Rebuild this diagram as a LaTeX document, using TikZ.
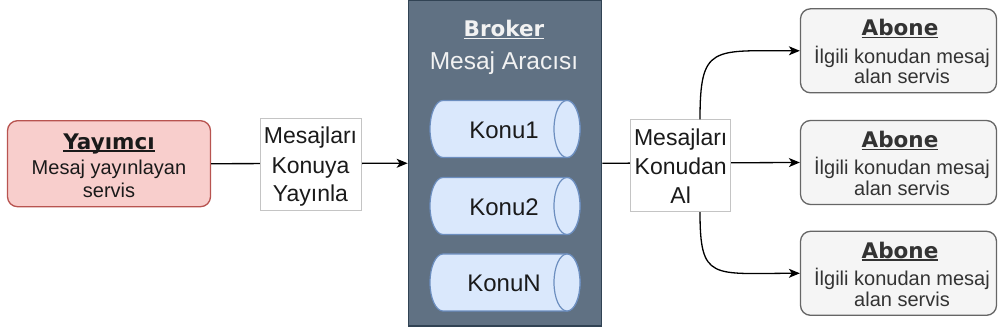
\documentclass[tikz,border=0pt]{standalone}
\usepackage{fontspec}
\setmainfont{Liberation Sans}
\newfontfamily\titlefont{DejaVu Sans}
\usetikzlibrary{arrows.meta}

\definecolor{yayfill}{HTML}{F8CECC}
\definecolor{yaydraw}{HTML}{B85450}
\definecolor{abfill}{HTML}{F5F5F5}
\definecolor{abdraw}{HTML}{666666}
\definecolor{abtext}{HTML}{333333}
\definecolor{brfill}{HTML}{607183}
\definecolor{brdraw}{HTML}{314354}
\definecolor{brtext}{HTML}{F2F2F2}
\definecolor{cyfill}{HTML}{DAE8FC}
\definecolor{cydraw}{HTML}{6C8EBF}
\definecolor{lbldraw}{HTML}{C4C4C4}
\definecolor{ink}{HTML}{1A1A1A}

% underlined title: rule just below the baseline
\newcommand\ulbox[1]{\setbox0\hbox{#1}\rlap{\rule[-2.4pt]{\wd0}{1.5pt}}\box0}

% horizontal topic cylinder: name, centre y, text
\newcommand\topic[3]{%
  \path[cyl] (443,{#2-28.5}) -- (567,{#2-28.5})
     arc[start angle=-90,end angle=90,x radius=13,y radius=28.5]
     -- (443,{#2+28.5})
     arc[start angle=90,end angle=270,x radius=13,y radius=28.5] -- cycle;
  \path[cyl] (567,#2) ellipse[x radius=13,y radius=28.5];
  \node[cytext] (#1) at (504,{#2+9.3}) {#3};
}

\begin{document}
\begin{tikzpicture}[x=1pt,y=-1pt,
  txt/.style={inner sep=0pt,anchor=base},
  ttl/.style={txt,font=\titlefont\bfseries\fontsize{21.5}{24}\selectfont},
  dsc/.style={txt,font=\fontsize{20}{23}\selectfont},
  lbltext/.style={txt,text=ink,font=\fontsize{23}{28}\selectfont},
  cytext/.style={txt,text=ink,font=\fontsize{24}{28}\selectfont},
  yaybox/.style={draw=yaydraw,fill=yayfill,line width=1.3pt,rounded corners=10pt,
    minimum width=203pt,minimum height=86pt,inner sep=0pt},
  abbox/.style={draw=abdraw,fill=abfill,line width=1.3pt,rounded corners=10pt,
    minimum width=196pt,minimum height=84pt,inner sep=0pt},
  brbox/.style={draw=brdraw,fill=brfill,line width=1.3pt,
    minimum width=193.4pt,minimum height=325.5pt,inner sep=0pt},
  lblbox/.style={draw=lbldraw,fill=white,line width=0.9pt,inner sep=0pt},
  cyl/.style={draw=cydraw,fill=cyfill,line width=1.2pt},
  conn/.style={draw=black,line width=1.3pt,
    -{Stealth[length=11pt,width=9pt,inset=3pt]}},
]
\useasboundingbox (0,0) rectangle (998,336);

% publisher
\node[yaybox] (yay) at (109,163.7) {};
\node[ttl,text=ink] (yayt) at (109,149.3) {\ulbox{Yayımcı}};
\node[dsc,text=ink] (yayd1) at (109,175) {Mesaj yayınlayan};
\node[dsc,text=ink] (yayd2) at (109,197.3) {servis};

% broker with its topics
\node[brbox] (broker) at (505,163.25) {};
\node[ttl,text=brtext] (brt) at (504,36.7) {\ulbox{Broker}};
\node[txt,text=brtext,font=\fontsize{24.5}{28}\selectfont] (brd) at (504,69.3) {Mesaj Aracısı};
\topic{konu1}{129}{Konu1}
\topic{konu2}{206}{Konu2}
\topic{konuN}{282.5}{KonuN}

% subscribers
\foreach \n/\cy in {ab1/50.8, ab2/162.5, ab3/273.3}{
  \node[abbox] (\n) at (898.5,\cy) {};
  \node[ttl,text=abtext] (\n t) at (900,{\cy-14.8}) {\ulbox{Abone}};
  \node[dsc,text=abtext] (\n d1) at (902,{\cy+12.5}) {İlgili konudan mesaj};
  \node[dsc,text=abtext] (\n d2) at (902,{\cy+33.2}) {alan servis};
}

% connectors
\coordinate (vx) at (700,0);
\draw[conn] (yay.east) -- (broker.west);
\draw[conn] (broker.east) -- (ab2.west);

% edge labels
\node[lblbox,minimum width=101pt,minimum height=92pt] (lbl1) at (310.5,164.2) {};
\node[lbltext] (lbl1a) at (310.5,143.3) {Mesajları};
\node[lbltext] (lbl1b) at (310.5,173.3) {Konuya};
\node[lbltext] (lbl1c) at (310.5,202) {Yayınla};

\node[lblbox,minimum width=100pt,minimum height=91.7pt] (lbl2) at (680.7,165.8) {};
\node[lbltext] (lbl2a) at (680.7,145.7) {Mesajları};
\node[lbltext] (lbl2b) at (680.7,175) {Konudan};
\node[lbltext] (lbl2c) at (680.7,203.3) {Al};

\draw[conn] (lbl2.north -| vx) .. controls (700,45) and (712,50.8) .. (ab1.west);
\draw[conn] (lbl2.south -| vx) .. controls (700,281) and (712,273.3) .. (ab3.west);
\end{tikzpicture}
\end{document}
